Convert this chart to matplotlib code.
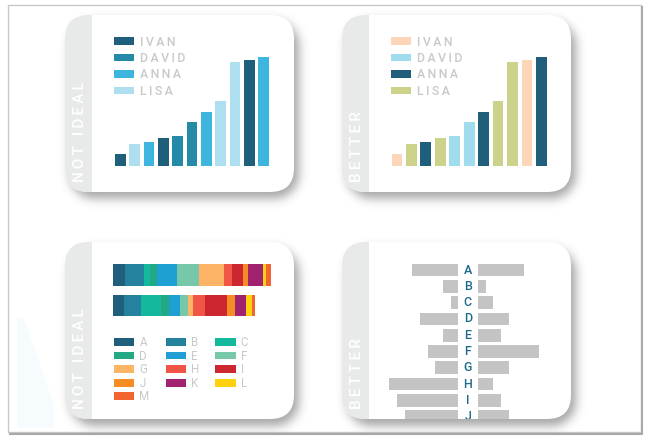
import numpy as np
import matplotlib.pyplot as plt
from matplotlib.patches import FancyBboxPatch, Rectangle, Polygon, Patch

W, H = 650, 444
plt.rcParams['font.family'] = ['Roboto', 'DejaVu Sans']

# --- data ---
people = ['IVAN', 'DAVID', 'ANNA', 'LISA']
values = [10.5, 20, 22, 26, 27.5, 40, 50, 60, 96, 98, 100]
owner_bad = ['IVAN', 'LISA', 'ANNA', 'IVAN', 'DAVID', 'DAVID', 'ANNA', 'LISA', 'LISA', 'IVAN', 'ANNA']
owner_good = ['IVAN', 'LISA', 'ANNA', 'LISA', 'DAVID', 'DAVID', 'ANNA', 'LISA', 'LISA', 'IVAN', 'ANNA']
colors_bad = {'IVAN': '#1f5f7b', 'DAVID': '#2589a8', 'ANNA': '#3db5de', 'LISA': '#addff0'}
colors_good = {'IVAN': '#fdd5b9', 'DAVID': '#9fdcee', 'ANNA': '#1f5f7b', 'LISA': '#ccd28a'}

groups = list('ABCDEFGHIJKLM')
stack_1 = [11.7, 19, 6, 7.3, 20, 22, 25, 8, 11, 5, 15, 2.7, 5]
stack_2 = [11, 16.7, 19.7, 8.7, 10.7, 8.3, 5, 11.7, 21.7, 8.3, 11, 5.7, 2.7]
group_colors = ['#1f5f7b', '#25829f', '#14b89c', '#22a884', '#1ea0d2', '#76c8a8', '#fdb467',
                '#f15546', '#cc2630', '#f68c24', '#a1226e', '#fdd10f', '#f26430']

rows = list('ABCDEFGHIJ')
left_vals = [46, 15, 7.7, 38.3, 15, 30.7, 23, 69, 61.7, 53.7]
right_vals = [45.7, 7.3, 15, 30.7, 22.7, 61, 30.7, 15, 22.7, 30.7]

label_grey = '#c9c9c9'


def spaced(s, gap='\u2009'):
    return gap.join(s)


def box(x0, y0, x1, y1):
    return [x0 / W, 1 - y1 / H, (x1 - x0) / W, (y1 - y0) / H]


fig = plt.figure(figsize=(6.5, 4.44), dpi=100)
bg = fig.add_axes([0, 0, 1, 1])
bg.axis('off')

# page frame + faint decoration
bg.add_patch(Polygon([(17, 318), (24, 318), (54, 405), (54, 428), (17, 428)],
                     fc='#f6fbfd', ec='none', zorder=0.5))
bg.add_patch(Rectangle((8, 5), 633, 427, fill=False, ec='#c8c8c8', lw=1, zorder=0.6))
bg.plot([10, 642, 642], [433.5, 433.5, 7], color='#a9a9a9', lw=1.5, zorder=0.6)

# cards with soft shadow
cards = [(65, 15, 'NOT IDEAL'), (342, 15, 'BETTER'), (65, 242, 'NOT IDEAL'), (342, 242, 'BETTER')]
cw, ch, rad, sw = 229, 177, 24, 27

yy, xx = np.mgrid[0:H, 0:W] + 0.5
shadow = np.zeros((H, W))
for x0, y0, _ in cards:
    sx, sy = x0 + 5, y0 + 7
    cx = np.clip(xx, sx + rad, sx + cw - rad)
    cy = np.clip(yy, sy + rad, sy + ch - rad)
    shadow = np.maximum(shadow, ((xx - cx) ** 2 + (yy - cy) ** 2 <= rad ** 2).astype(float))
t = np.arange(-15, 16)
k = np.exp(-t ** 2 / (2 * 5.0 ** 2))
k /= k.sum()
shadow = np.apply_along_axis(lambda m: np.convolve(m, k, mode='same'), 0, shadow)
shadow = np.apply_along_axis(lambda m: np.convolve(m, k, mode='same'), 1, shadow)
rgba = np.zeros((H, W, 4))
rgba[..., :3] = 0.3
rgba[..., 3] = shadow * 0.5
bg.imshow(rgba, extent=(0, W, H, 0), zorder=1, interpolation='bilinear')
bg.set_aspect('auto')
bg.set_xlim(0, W)
bg.set_ylim(H, 0)

for x0, y0, title in cards:
    card = FancyBboxPatch((x0, y0), cw, ch, boxstyle=f'round,pad=0,rounding_size={rad}',
                          fc='white', ec='none', zorder=2)
    bg.add_patch(card)
    side = Rectangle((x0, y0), sw, ch, fc='#e8e9e9', ec='none', zorder=3)
    bg.add_patch(side)
    side.set_clip_path(card)
    bg.text(x0 + 15, y0 + 167, spaced(title), rotation=90, color='white', fontsize=11,
            fontweight='medium', ha='center', va='bottom', zorder=4)

# --- chart 1 & 2: columns ---
for px0, px1, owners, pal in [(113.2, 270.8, owner_bad, colors_bad),
                              (389.8, 548.6, owner_good, colors_good)]:
    ax = fig.add_axes(box(px0, 57.4, px1, 165.7))
    ax.bar(range(len(values)), values, width=0.75, color=[pal[o] for o in owners])
    ax.set_xlim(-0.5, len(values) - 0.5)
    ax.set_ylim(0, 100)
    ax.axis('off')
    handles = [Patch(fc=pal[p], ec='none') for p in people]
    ax.legend(handles, [spaced(p) for p in people], loc='upper left',
              bbox_to_anchor=(px0 + 1, 35.5), bbox_transform=bg.transData,
              frameon=False, borderpad=0, borderaxespad=0, handlelength=1.65,
              handleheight=0.58, handletextpad=0.5, labelspacing=0.28,
              prop={'size': 8.8, 'weight': 'medium'}, labelcolor=label_grey)

# --- chart 3: stacked bars ---
ax3 = fig.add_axes(box(113.3, 259.75, 273.3, 320.75))
left1, left2 = 0, 0
for g, a, b, c in zip(groups, stack_1, stack_2, group_colors):
    ax3.barh([0, 1], [a, b], left=[left1, left2], height=0.72, color=c, label=g)
    left1 += a
    left2 += b
ax3.set_xlim(0, 160)
ax3.set_ylim(1.5, -0.5)
ax3.axis('off')
hs, ls = ax3.get_legend_handles_labels()
order = [0, 3, 6, 9, 12, 1, 4, 7, 10, 2, 5, 8, 11]
ax3.legend([hs[i] for i in order], [ls[i] for i in order], ncol=3, loc='upper left',
           bbox_to_anchor=(114, 336), bbox_transform=bg.transData,
           frameon=False, borderpad=0, borderaxespad=0, handlelength=1.75,
           handleheight=0.65, handletextpad=0.45, labelspacing=0.05, columnspacing=1.4,
           prop={'size': 8.3}, labelcolor=label_grey)

# --- chart 4: butterfly ---
ax4 = fig.add_axes(box(380, 261.85, 560, 419))
ypos = np.arange(len(rows))
ax4.barh(ypos, [-v for v in left_vals], left=-10, height=0.78, color='#c4c4c4')
ax4.barh(ypos, right_vals, left=10, height=0.78, color='#c4c4c4')
for i, r in enumerate(rows):
    ax4.text(-0.5, i, r, ha='center', va='center', color='#1d6b8c', fontsize=9,
             fontweight='medium', clip_on=True)
ax4.set_xlim(-88.3, 91.7)
ax4.set_ylim((419 - 270) / 16.3, -0.5)
ax4.axis('off')

fig.savefig('out.png', dpi=100)
